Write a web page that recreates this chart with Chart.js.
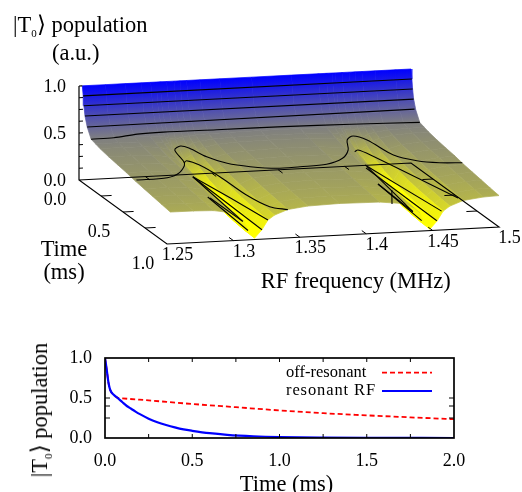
<!DOCTYPE html>
<html>
<head>
<meta charset="utf-8">
<script src="https://cdn.jsdelivr.net/npm/chart.js@4"></script>
<style>
html,body{margin:0;padding:0;background:#fff;}
#wrap{position:relative;width:522px;height:492px;overflow:hidden;font-family:"Liberation Serif",serif;color:#000;}
canvas{position:absolute;left:0;}
#surf{top:0;}
#lines{top:320px;}
.lbl{position:absolute;white-space:nowrap;font-size:22.5px;line-height:26px;}
.lbl sub{font-size:11px;line-height:0;vertical-align:-5px;}
</style>
</head>
<body>
<div id="wrap">
<canvas id="surf" width="522" height="320"></canvas>
<canvas id="lines" width="522" height="172"></canvas>
<div class="lbl" style="left:13px;top:12px;">|T<sub>0</sub>⟩ population</div>
<div class="lbl" style="left:52px;top:40px;">(a.u.)</div>
<div class="lbl" style="left:40px;top:410px;transform:translate(-50%,-50%) rotate(-90deg);transform-origin:center;">|T<sub>0</sub>⟩ population</div>
</div>
<script>
// ---------- surface values ----------
const freqGrid=[1.2525,1.27,1.285,1.297,1.304,1.308,1.311,1.316,1.3215,1.326,1.331,1.341,1.356,1.38,1.41,1.43,1.436,1.4405,1.443,1.448,1.4535,1.458,1.463,1.473,1.488,1.5];
const timeGrid=[0,0.01,0.018,0.03,0.055,0.1,0.15,0.2,0.3,0.4,0.5,0.6,0.7,0.8,0.9,1.0];
const popT000=[1,1,1,1,1,1,1,1,1,1,1,1,1,1,1,1,1,1,1,1,1,1,1,1,1,1];
const popT010=[.9,.9,.9,.9,.9,.9,.9,.9,.9,.9,.9,.9,.9,.9,.9,.9,.9,.9,.9,.9,.9,.9,.9,.9,.9,.9];
const popT018=[.8,.8,.8,.8,.8,.8,.8,.8,.8,.8,.8,.8,.8,.8,.8,.8,.8,.8,.8,.8,.8,.8,.8,.8,.8,.8];
const popT030=[.7,.7,.7,.7,.7,.7,.7,.7,.7,.7,.7,.7,.7,.7,.7,.7,.7,.7,.7,.7,.7,.7,.7,.7,.7,.7];
const popT055=[.6,.6,.6,.6,.6,.6,.6,.6,.6,.6,.6,.6,.6,.6,.6,.6,.6,.6,.6,.6,.6,.6,.6,.6,.6,.6];
const popT100=[.5,.5,.499,.495,.489,.483,.47,.46,.47,.483,.489,.495,.498,.5,.499,.495,.489,.482,.47,.46,.47,.483,.489,.495,.498,.499];
const popT150=[.485,.484,.482,.472,.456,.44,.407,.38,.407,.44,.456,.472,.481,.484,.482,.471,.456,.438,.407,.38,.407,.44,.456,.472,.481,.483];
const popT200=[.469,.468,.465,.451,.425,.401,.352,.31,.352,.401,.425,.451,.464,.468,.465,.449,.425,.398,.352,.31,.352,.401,.425,.451,.464,.467];
const popT300=[.449,.448,.443,.421,.383,.347,.272,.21,.272,.347,.383,.421,.44,.448,.443,.419,.383,.342,.272,.21,.272,.347,.383,.421,.44,.445];
const popT400=[.434,.432,.426,.4,.354,.31,.22,.145,.22,.31,.354,.4,.423,.432,.426,.397,.354,.305,.22,.145,.22,.31,.354,.4,.423,.429];
const popT500=[.418,.417,.41,.382,.33,.282,.183,.1,.183,.282,.33,.382,.407,.417,.41,.378,.33,.276,.183,.1,.183,.282,.33,.382,.407,.414];
const popT600=[.398,.397,.39,.36,.308,.258,.156,.07,.156,.258,.308,.36,.387,.397,.39,.357,.308,.252,.156,.07,.156,.258,.308,.36,.387,.393];
const popT700=[.383,.382,.375,.344,.29,.239,.133,.045,.133,.239,.29,.344,.371,.382,.375,.341,.29,.232,.133,.045,.133,.239,.29,.344,.371,.378];
const popT800=[.368,.367,.36,.329,.275,.224,.118,.03,.118,.224,.275,.329,.356,.367,.36,.326,.275,.217,.118,.03,.118,.224,.275,.329,.356,.363];
const popT900=[.353,.352,.345,.315,.261,.211,.107,.02,.107,.211,.261,.315,.342,.352,.345,.311,.261,.204,.107,.02,.107,.211,.261,.315,.342,.348];
const popT1000=[.338,.337,.33,.301,.249,.2,.1,.015,.1,.2,.249,.301,.327,.337,.33,.298,.249,.194,.1,.015,.1,.2,.249,.301,.327,.334];
const popRows=[popT000,popT010,popT018,popT030,popT055,popT100,popT150,popT200,popT300,popT400,popT500,popT600,popT700,popT800,popT900,popT1000];

// ---------- contour lines: level, frequency, time ----------
const contours=[
 [.9,[1.2525,1.5],[.01,.01]],
 [.8,[1.2525,1.5],[.018,.018]],
 [.7,[1.2525,1.5],[.03,.03]],
 [.6,[1.2525,1.5],[.055,.04]],
 [.5,[1.2525,1.27,1.29,1.31,1.35,1.4,1.45,1.5],[.1,.095,.06,.05,.055,.06,.075,.1]],
 [.4,[1.254,1.278,1.292,1.304,1.310,1.318,1.322,1.326,1.334,1.347,1.364,1.382,1.403,1.42,1.432,1.441,1.449,1.455,1.459,1.47,1.484,1.5],
     [.592,.581,.512,.384,.183,.128,.169,.304,.416,.4825,.526,.52,.505,.429,.312,.165,.111,.18,.419,.52,.566,.583]],
 [.3,[1.313,1.317,1.322,1.325,1.326,1.331,1.341],[.242,.211,.283,.469,.756,.944,1.0]],
 [.3,[1.444,1.448,1.452,1.472],[.205,.182,.264,.958]],
 [.3,[1.4332,1.4197],[.79,.996]],
 [.2,[1.315,1.321,1.326],[.312,.65,1.0]],
 [.2,[1.315,1.307],[.312,1.0]],
 [.2,[1.3066,1.307],[.635,1.0]],
 [.1,[1.324,1.3215],[.179,1.0]],
 [.1,[1.315,1.311],[.482,1.0]],
 [.2,[1.4475,1.4568],[.269,1.0]],
 [.2,[1.4475,1.436],[.29,.987]],
 [.2,[1.4383,1.436],[.556,.987]],
 [.1,[1.4544,1.4532],[.177,1.0]],
 [.1,[1.4474,1.4426],[.419,.987]]
];

// ---------- 3D axis ticks ----------
const freqTicks=[1.25,1.3,1.35,1.4,1.45,1.5];
const freqTickLabels=["1.25","1.3","1.35","1.4","1.45","1.5"];
const timeTicks=[0,0.5,1];
const timeTickLabels=["0.0","0.5","1.0"];
const timeMinorTicks=[0.25,0.5,0.75];
const popTicks=[0,0.5,1];
const popTickLabels=["0.0","0.5","1.0"];
const popMinorTicks=[.125,.25,.375,.5,.625,.75,.875];

// ---------- lower panel ----------
const offTime=[0,.01,.02,.03,.05,.07,.1,.25,.5,.75,1,1.25,1.5,1.75,2];
const offPop=[1,.85,.69,.6,.54,.505,.496,.47,.425,.385,.345,.31,.283,.258,.235];
const resTime=[0,.005,.01,.02,.03,.05,.07,.1,.125,.15,.175,.2,.25,.3,.35,.4,.45,.5,.6,.7,.85,1,1.25,1.5,2];
const resPop=[1,.93,.85,.69,.6,.54,.505,.447,.4,.365,.33,.298,.242,.198,.163,.133,.108,.09,.06,.04,.022,.012,.005,.002,0];
const lineXMinorTicks=[.25,.5,.75,1,1.25,1.5,1.75];
const lineYMinorTicks=[.25,.4,.5];

// ---------- projection of the 3D box onto the picture plane ----------
const proj=(f,t,z)=>({x:79+1328*(f-1.25)+88*t, y:180-68*(f-1.25)+64*t-94*z});
const pal=z=>{
  if(z<.35){ // lower part of the palette climbs to full yellow sooner
    const m=Math.max(0,Math.min(1,(.35-z)/.23));
    return `rgb(${Math.round(166+89*m)},${Math.round(166+89*m)},${Math.round(89-89*m)})`;
  }
  const c=Math.min(1,z);const a=Math.round(255*(1-c));return `rgb(${a},${a},${Math.round(255*c)})`;
};
const seg=(pts,w,order)=>({type:'line',data:pts,borderColor:'#000',borderWidth:w,pointRadius:0,tension:0,fill:false,order,clip:false});

const datasets=[];
let ord=100000;
// surface: back to front, high frequency to low frequency
for(let i=0;i<timeGrid.length-1;i++){
  for(let j=freqGrid.length-2;j>=0;j--){
    const a=proj(freqGrid[j],timeGrid[i],popRows[i][j]),b=proj(freqGrid[j+1],timeGrid[i],popRows[i][j+1]),
          c=proj(freqGrid[j+1],timeGrid[i+1],popRows[i+1][j+1]),d=proj(freqGrid[j],timeGrid[i+1],popRows[i+1][j]);
    const z0=(popRows[i][j]+popRows[i][j+1])/2,z1=(popRows[i+1][j]+popRows[i+1][j+1])/2;
    let g=null;
    const paint=ctx=>{
      const ch=ctx.chart;
      if(!ch.chartArea)return pal((z0+z1)/2);
      if(g)return g;
      const X=ch.scales.x,Y=ch.scales.y;
      // colour runs across the strip, so neighbouring cells of one strip meet without a seam
      const x1=X.getPixelForValue((a.x+b.x)/2),y1=Y.getPixelForValue((a.y+b.y)/2);
      const x2=X.getPixelForValue((c.x+d.x)/2),y2=Y.getPixelForValue((c.y+d.y)/2);
      const ex=b.x-a.x,ey=b.y-a.y,el=Math.hypot(ex,ey)||1,nx=-ey/el,ny=ex/el;
      const dist=(x2-x1)*nx+(y2-y1)*ny;
      const gr=ch.ctx.createLinearGradient(x1,y1,x1+nx*dist+.001,y1+ny*dist+.001);
      gr.addColorStop(0,pal(z0));gr.addColorStop(1,pal(z1));
      g=gr;return g;
    };
    datasets.push({type:'line',data:[a,b,c,d,a],backgroundColor:paint,borderColor:paint,borderWidth:.7,pointRadius:0,tension:0,fill:'shape',order:ord--,clip:false});
  }
}
// contour lines
contours.forEach(([lvl,fs,ts])=>{
  const ds=seg(fs.map((f,k)=>proj(f,ts[k],lvl)),1.1,10);
  ds.tension=fs.length>3?.3:0;
  datasets.push(ds);
});
// box
datasets.push(seg([proj(1.25,0,1),proj(1.25,0,0),proj(1.25,1,0),proj(1.5,1,0),proj(1.5,0,0),proj(1.25,0,0)],1.2,5));
datasets.push(seg([proj(1.25,0,1),proj(1.2525,0,1)],1.2,5));
freqTicks.slice(1,5).forEach(f=>{
  datasets.push(seg([proj(f,1,0),proj(f,.95,0)],1,5));
  datasets.push(seg([proj(f,0,0),proj(f,.05,0)],1,5));
});
timeMinorTicks.forEach(t=>{
  datasets.push(seg([proj(1.25,t,0),proj(1.258,t,0)],1,5));
  datasets.push(seg([proj(1.5,t,0),proj(1.492,t,0)],1,5));
});
popMinorTicks.forEach(z=>{
  datasets.push(seg([proj(1.25,0,z),proj(1.253,0,z)],1,5));
});

const axisText={id:'axisText',afterDatasetsDraw(ch){
  const c=ch.ctx,X=ch.scales.x,Y=ch.scales.y;
  const put=(s,p,dx,dy,al,font)=>{c.font=font;c.textAlign=al;c.textBaseline='middle';c.fillStyle='#000';
    c.fillText(s,X.getPixelForValue(p.x)+dx,Y.getPixelForValue(p.y)+dy);};
  c.save();
  const tf='18px "Liberation Serif"',lf='22.5px "Liberation Serif"';
  popTicks.forEach((z,i)=>put(popTickLabels[i],proj(1.25,0,z),-13,1,'right',tf));
  timeTicks.forEach((t,i)=>put(timeTickLabels[i],proj(1.25,t,0),-24,20,'center',tf));
  freqTicks.forEach((f,i)=>put(freqTickLabels[i],proj(f,1,0),10.5,11.5,'center',tf));
  put('RF frequency (MHz)',proj(1.35,1,0),56,45,'center',lf);
  put('Time',proj(1.25,1,0),-103,6,'center',lf);
  put('(ms)',proj(1.25,1,0),-103,29,'center',lf);
  c.restore();
}};

new Chart(document.getElementById('surf'),{
  type:'line',
  data:{datasets},
  options:{responsive:false,animation:false,events:[],layout:{padding:0},
    plugins:{legend:{display:false},tooltip:{enabled:false},filler:{drawTime:'beforeDatasetDraw',propagate:false}},
    scales:{x:{type:'linear',display:false,min:0,max:522},y:{type:'linear',display:false,min:0,max:320,reverse:true}}},
  plugins:[axisText]
});

const frameAndKey={id:'frameAndKey',afterDatasetsDraw(ch){
  const c=ch.ctx,a=ch.chartArea,X=ch.scales.x,Y=ch.scales.y;
  c.save();
  c.strokeStyle='#000';c.lineWidth=1;
  lineXMinorTicks.forEach(v=>{const p=X.getPixelForValue(v);c.beginPath();c.moveTo(p,a.bottom);c.lineTo(p,a.bottom-4);c.moveTo(p,a.top);c.lineTo(p,a.top+4);c.stroke();});
  lineYMinorTicks.forEach(v=>{const p=Y.getPixelForValue(v);c.beginPath();c.moveTo(a.left,p);c.lineTo(a.left+5,p);c.moveTo(a.right,p);c.lineTo(a.right-5,p);c.stroke();});
  c.lineWidth=1.7;c.strokeRect(a.left,a.top,a.right-a.left,a.bottom-a.top);
  c.fillStyle='#000';c.textAlign='left';c.textBaseline='middle';
  c.font='16.5px "Liberation Serif"';
  const off=ch.data.datasets[1],res=ch.data.datasets[0];
  [[off,52.7,'0px'],[res,71,'.9px']].forEach(([d,y,sp])=>{
    c.letterSpacing=sp;
    c.fillText(d.label,286,y);
    c.beginPath();c.strokeStyle=d.borderColor;c.lineWidth=d.borderWidth;c.setLineDash(d.borderDash||[]);
    c.moveTo(382,y);c.lineTo(432,y);c.stroke();
  });
  c.letterSpacing='0px';
  c.setLineDash([]);
  c.font='22.5px "Liberation Serif"';c.textAlign='center';
  c.fillText('Time (ms)',286.5,165);
  c.restore();
}};

new Chart(document.getElementById('lines'),{
  type:'line',
  data:{datasets:[
    {label:'resonant RF',data:resTime.map((t,i)=>({x:t,y:resPop[i]})),borderColor:'#0000ff',borderWidth:2.2,pointRadius:0,cubicInterpolationMode:'monotone',order:1},
    {label:'off-resonant',data:offTime.map((t,i)=>({x:t,y:offPop[i]})),borderColor:'#ff0000',borderWidth:1.8,borderDash:[5,3],pointRadius:0,cubicInterpolationMode:'monotone',order:2}
  ]},
  options:{responsive:false,animation:false,events:[],
    layout:{padding:{top:38,right:68,left:0,bottom:0}},
    plugins:{legend:{display:false},tooltip:{enabled:false}},
    scales:{
      x:{type:'linear',min:0,max:2,
        grid:{display:false,drawTicks:false},border:{display:false},
        ticks:{stepSize:.5,color:'#000',padding:12,maxRotation:0,font:{family:'Liberation Serif',size:18},callback:v=>v.toFixed(1)},
        afterFit(s){s.height=54;}},
      y:{type:'linear',min:0,max:1,
        grid:{display:false,drawTicks:false},border:{display:false},
        ticks:{stepSize:.5,color:'#000',padding:13,font:{family:'Liberation Serif',size:18},callback:v=>v.toFixed(1)},
        afterFit(s){s.width=105;}}
    }},
  plugins:[frameAndKey]
});
</script>
</body>
</html>
